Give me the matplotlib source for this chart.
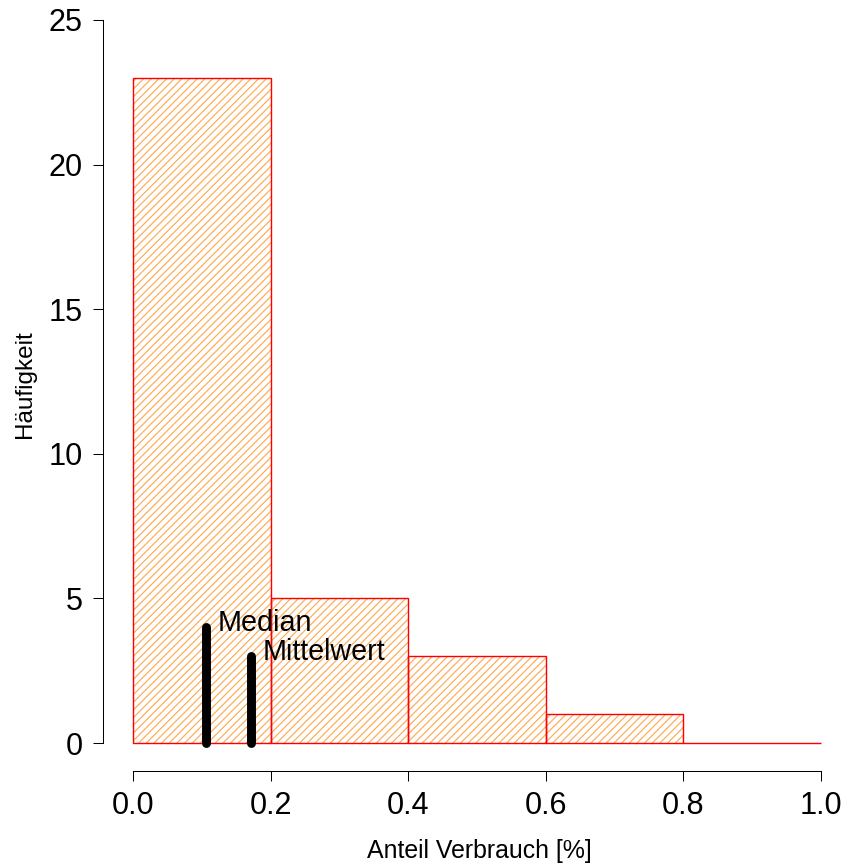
import matplotlib
matplotlib.use("Agg")
import matplotlib.pyplot as plt
import numpy as np

# Data
bin_edges = [0.0, 0.2, 0.4, 0.6, 0.8, 1.0]
counts = [23, 5, 3, 1, 0]
median_value = 0.1065
mean_value = 0.171
median_height = 4
mean_height = 3
x_ticks = [0.0, 0.2, 0.4, 0.6, 0.8, 1.0]
x_tick_labels = ["0.0", "0.2", "0.4", "0.6", "0.8", "1.0"]
y_ticks = [0, 5, 10, 15, 20, 25]

DPI = 92
plt.rcParams['font.family'] = ['Liberation Sans', 'DejaVu Sans']
plt.rcParams['hatch.linewidth'] = 0.9

fig = plt.figure(figsize=(846 / DPI, 865 / DPI), dpi=DPI)
ax = fig.add_axes([103 / 846, (865 - 771) / 865, (846 - 103) / 846, 771 / 865])
ax.set_xlim(-0.0436, 1.0363)
ax.set_ylim(-0.968, 25.69)

lefts = np.array(bin_edges[:-1])
widths = np.diff(bin_edges)
# hatch layer
ax.bar(lefts, counts, width=widths, align='edge', facecolor='none',
       edgecolor='#FFA850', hatch='////', linewidth=0, zorder=1)
# outline layer
ax.bar(lefts, counts, width=widths, align='edge', facecolor='none',
       edgecolor='#FF0000', linewidth=1.1, zorder=2)

# median / mean lines
ax.plot([median_value, median_value], [0, median_height], color='black',
        linewidth=7, solid_capstyle='round', zorder=3)
ax.plot([mean_value, mean_value], [0, mean_height], color='black',
        linewidth=7, solid_capstyle='round', zorder=3)
ax.text(median_value + 0.017, median_height + 0.15, "Median", fontsize=22.5,
        ha='left', va='center', zorder=4)
ax.text(mean_value + 0.018, mean_height + 0.15, "Mittelwert", fontsize=22.5,
        ha='left', va='center', zorder=4)

for s in ['top', 'right']:
    ax.spines[s].set_visible(False)
ax.spines['left'].set_bounds(0, 25)
ax.spines['bottom'].set_bounds(0, 1)
for s in ['left', 'bottom']:
    ax.spines[s].set_linewidth(0.8)

ax.set_xticks(x_ticks)
ax.set_xticklabels(x_tick_labels)
ax.set_yticks(y_ticks)
ax.tick_params(axis='both', direction='out', length=7.8, width=0.8,
               labelsize=24, pad=8)

fig.text(479 / 846, 1 - 851 / 865, "Anteil Verbrauch [%]",
         fontsize=19.5, ha='center', va='center')
fig.text(25 / 846, 1 - 384 / 865, "Häufigkeit", fontsize=19, rotation=90,
         ha='center', va='center')

fig.savefig("out.png", dpi=DPI)
